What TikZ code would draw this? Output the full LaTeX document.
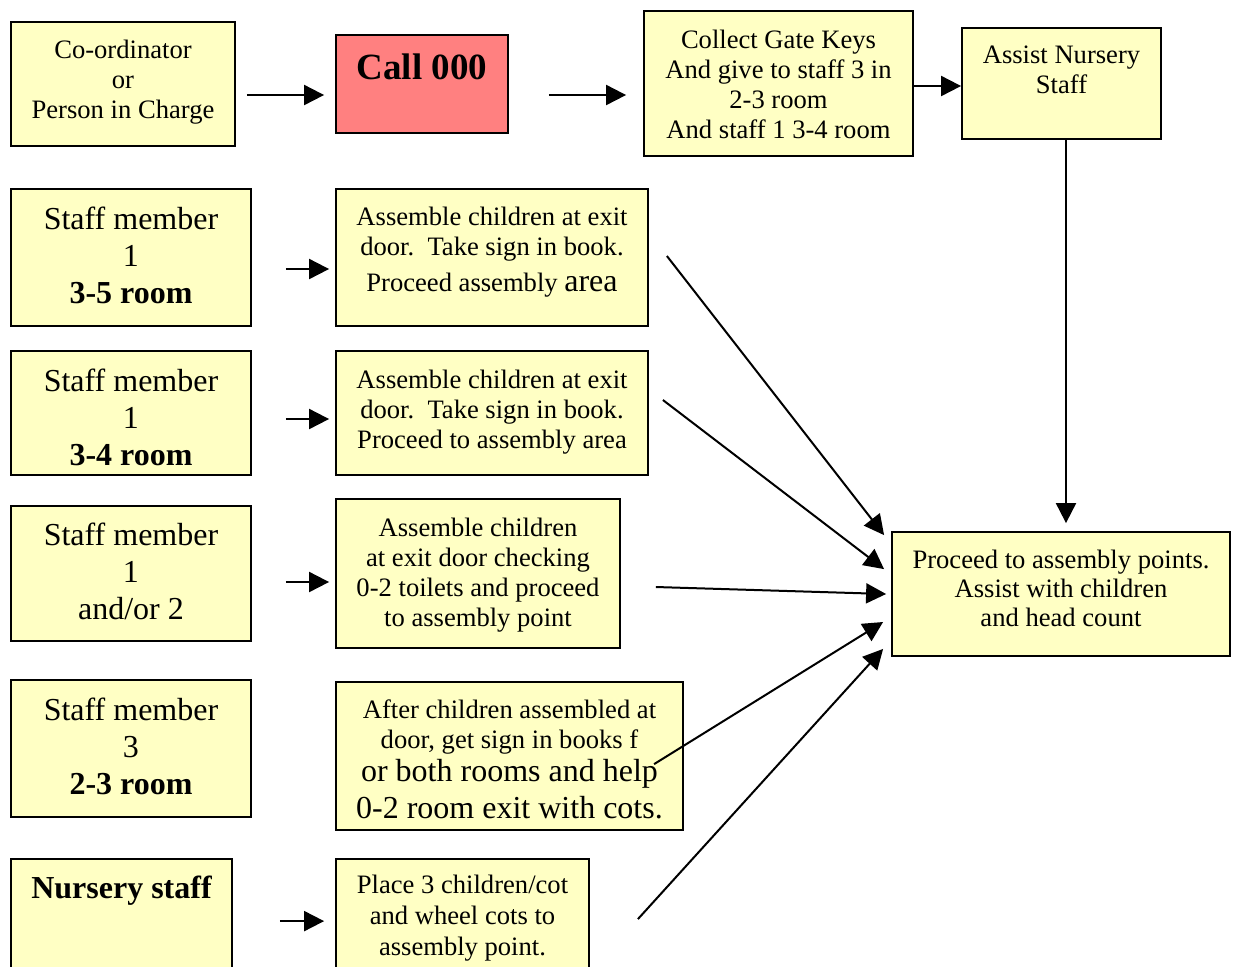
\documentclass[tikz,border=0pt]{standalone}
\usepackage{fontspec}
\setmainfont{Liberation Serif}
\usetikzlibrary{arrows.meta,fit}
\definecolor{boxyellow}{HTML}{FFFFC4}
\definecolor{callred}{HTML}{FF8080}
\begin{document}
\begin{tikzpicture}[x=0.5pt,y=-0.5pt,
  box/.style={draw=black, line width=0.9pt, fill=boxyellow, inner sep=0pt},
  txt/.style={align=center, inner sep=0pt, anchor=base, font=\fontsize{13.3}{15}\selectfont},
  big/.style={align=center, inner sep=0pt, anchor=base, font=\fontsize{16}{18.5}\selectfont},
  arr/.style={line width=1pt, -{Triangle[length=10pt,width=10pt]}}]
\clip (0,0) rectangle (1233,966);
\useasboundingbox (0,0) rectangle (1233,966);
\fill[white] (0,0) rectangle (1233,966);

% boxes
\node[box, fit={(11,22)(235,146)}] (b1) {};
\node[box, fill=callred, fit={(336,35)(508,133)}] (b2) {};
\node[box, fit={(644,11)(913,156)}] (b3) {};
\node[box, fit={(962,28)(1161,139)}] (b4) {};
\node[box, fit={(11,189)(251,326)}] (b5) {};
\node[box, fit={(336,189)(648,326)}] (b6) {};
\node[box, fit={(11,351)(251,475)}] (b7) {};
\node[box, fit={(336,351)(648,475)}] (b8) {};
\node[box, fit={(11,506)(251,641)}] (b9) {};
\node[box, fit={(336,499)(620,648)}] (b10) {};
\node[box, fit={(11,680)(251,817)}] (b11) {};
\node[box, fit={(336,682)(683,830)}] (b12) {};
\node[box, fit={(11,859)(232,990)}] (b13) {};
\node[box, fit={(336,859)(589,990)}] (b14) {};
\node[box, fit={(892,532)(1230,656)}] (b15) {};

% texts (anchor = baseline of last line)
\node[txt] (t1) at (123,118.5) {Co-ordinator\\or\\Person in Charge};
\node[txt, font=\bfseries\fontsize{18.5}{22}\selectfont] (t2) at (422,79) {Call 000};
\node[txt] (t3) at (778.5,138.5) {Collect Gate Keys\\And give to staff 3 in\\2-3 room\\And staff 1 3-4 room};
\node[txt] (t4) at (1061.5,93) {Assist Nursery\\Staff};
\node[big] (t5) at (131,303) {Staff member\\1\\\textbf{3-5 room}};
\node[txt] (t6) at (492,291) {Assemble children at exit\\door.\ \ Take sign in book.\\[3pt]Proceed assembly {\fontsize{16}{18.5}\selectfont area}};
\node[big] (t7) at (131,465) {Staff member\\1\\\textbf{3-4 room}};
\node[txt] (t8) at (492,448) {Assemble children at exit\\door.\ \ Take sign in book.\\Proceed to assembly area};
\node[big] (t9) at (131,619) {Staff member\\1\\and/or 2};
\node[txt] (t10) at (478,626) {Assemble children\\at exit door checking\\0-2 toilets and proceed\\to assembly point};
\node[big] (t11) at (131,794) {Staff member\\3\\\textbf{2-3 room}};
\node[txt] (t12) at (509.5,818) {After children assembled at\\door, get sign in books f\\[1.5pt]{\fontsize{16}{18.5}\selectfont or both rooms and help}\\[3.5pt]{\fontsize{16}{18.5}\selectfont 0-2 room exit with cots.}};
\node[big, font=\bfseries\fontsize{16}{18.5}\selectfont] (t13) at (121.5,898) {Nursery staff};
\node[txt, font=\fontsize{13.3}{15.5}\selectfont] (t14) at (462.5,955) {Place 3 children/cot\\and wheel cots to\\assembly point.};
\node[txt, font=\fontsize{13.3}{14.5}\selectfont] (t15) at (1061,626.5) {Proceed to assembly points.\\Assist with children\\and head count};

% connectors
\draw[arr] ([shift={(11,11)}]b1.east) -- ([shift={(-11,11)}]b2.west);
\draw[arr] ([shift={(40,11)}]b2.east) -- ([shift={(-17,11.5)}]b3.west);
\draw[arr] ([shift={(0,2.5)}]b3.east) -- ([shift={(0,2.5)}]b4.west);
\draw[arr] ([shift={(4.5,0)}]b4.south) -- ([shift={(5,-8)}]b15.north);
\draw[arr] ([shift={(34,11.5)}]b5.east) -- ([shift={(-6,11.5)}]b6.west);
\draw[arr] ([shift={(34,6)}]b7.east) -- ([shift={(-6,6)}]b8.west);
\draw[arr] ([shift={(34,8.5)}]b9.east) -- ([shift={(-6,8.5)}]b10.west);
\draw[arr] ([shift={(47,63)}]b13.north east) -- ([shift={(-11,63)}]b14.north west);
\draw[arr] ([shift={(18,-1.5)}]b6.east) -- ([shift={(-7,4)}]b15.north west);
\draw[arr] ([shift={(14,-13)}]b8.east) -- ([shift={(-7,38)}]b15.north west);
\draw[arr] ([shift={(35,13.5)}]b10.east) -- ([shift={(-5,0)}]b15.west);
\draw[arr] ([shift={(319,83)}]b12.north west) -- ([shift={(-8,28)}]b15.west);
\draw[arr] ([shift={(48,61)}]b14.north east) -- ([shift={(-8,-8)}]b15.south west);
\end{tikzpicture}
\end{document}
